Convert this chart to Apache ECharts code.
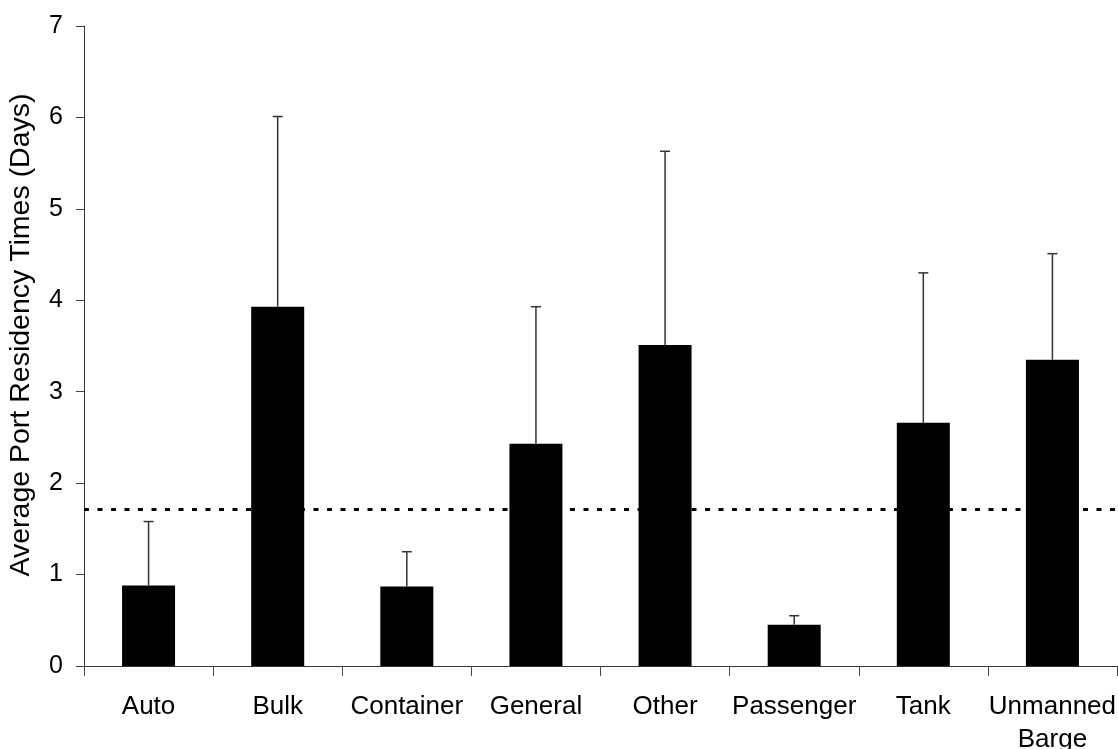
<!DOCTYPE html>
<html>
<head>
<meta charset="utf-8">
<script src="https://cdn.jsdelivr.net/npm/echarts@6/dist/echarts.min.js"></script>
<style>
  html, body { margin: 0; padding: 0; background: #fff; }
  #chart { width: 1118px; height: 749px; }
</style>
</head>
<body>
<div id="chart"></div>
<script>
var categories = ['Auto', 'Bulk', 'Container', 'General', 'Other', 'Passenger', 'Tank', 'Unmanned\nBarge']
var means = [0.88, 3.93, 0.87, 2.43, 3.51, 0.45, 2.66, 3.35]
var errorTops = [1.58, 6.01, 1.25, 3.93, 5.63, 0.55, 4.30, 4.51]
var overallMean = 1.71
var yTicks = [0, 1, 2, 3, 4, 5, 6, 7]

var myChart = echarts.init(document.getElementById('chart'))

var errData = []
for (var i = 0; i < categories.length; i++) {
    errData.push([i, means[i], errorTops[i]])
}

var option = {
    animation: false,
    textStyle: { fontFamily: 'Liberation Sans, Arial, sans-serif' },
    grid: { left: 84, right: 1, top: 26, bottom: 83, outerBoundsMode: 'none', containLabel: false },
    xAxis: {
        type: 'category',
        data: categories,
        boundaryGap: true,
        axisLine: { lineStyle: { color: '#333', width: 1 } },
        axisTick: { show: true, inside: false, length: 10, alignWithLabel: false, lineStyle: { color: '#444' } },
        axisLabel: { color: '#000', fontSize: 26, margin: 24, lineHeight: 33, interval: 0 }
    },
    yAxis: {
        type: 'value',
        min: yTicks[0],
        max: yTicks[yTicks.length - 1],
        interval: 1,
        name: 'Average Port Residency Times (Days)',
        nameLocation: 'middle',
        nameGap: 48,
        nameTextStyle: { color: '#000', fontSize: 28.5, padding: [0, 0, 0, 22] },
        splitLine: { show: false },
        axisLine: { show: true, lineStyle: { color: '#333', width: 1 } },
        axisTick: { show: true, inside: false, length: 8, lineStyle: { color: '#444' } },
        axisLabel: { color: '#000', fontSize: 25, margin: 21 }
    },
    series: [{
        name: 'mean',
        type: 'bar',
        data: means,
        barWidth: 53,
        itemStyle: { color: '#000' },
        markLine: {
            silent: true,
            symbol: 'none',
            label: { show: false },
            lineStyle: { color: '#000', width: 3, type: [5, 8.5] },
            data: [{ yAxis: overallMean }]
        }
    }, {
        name: 'error',
        type: 'custom',
        data: errData,
        encode: { x: 0, y: [1, 2] },
        z: 3,
        renderItem: function (params, api) {
            var bottom = api.coord([api.value(0), api.value(1)])
            var top = api.coord([api.value(0), api.value(2)])
            var half = 5
            var style = { stroke: '#333', lineWidth: 1.5 }
            return {
                type: 'group',
                children: [{
                    type: 'line',
                    shape: { x1: bottom[0], y1: bottom[1], x2: top[0], y2: top[1] },
                    style: style
                }, {
                    type: 'line',
                    shape: { x1: top[0] - half, y1: top[1], x2: top[0] + half, y2: top[1] },
                    style: style
                }]
            }
        }
    }]
}
myChart.setOption(option)
</script>
</body>
</html>
